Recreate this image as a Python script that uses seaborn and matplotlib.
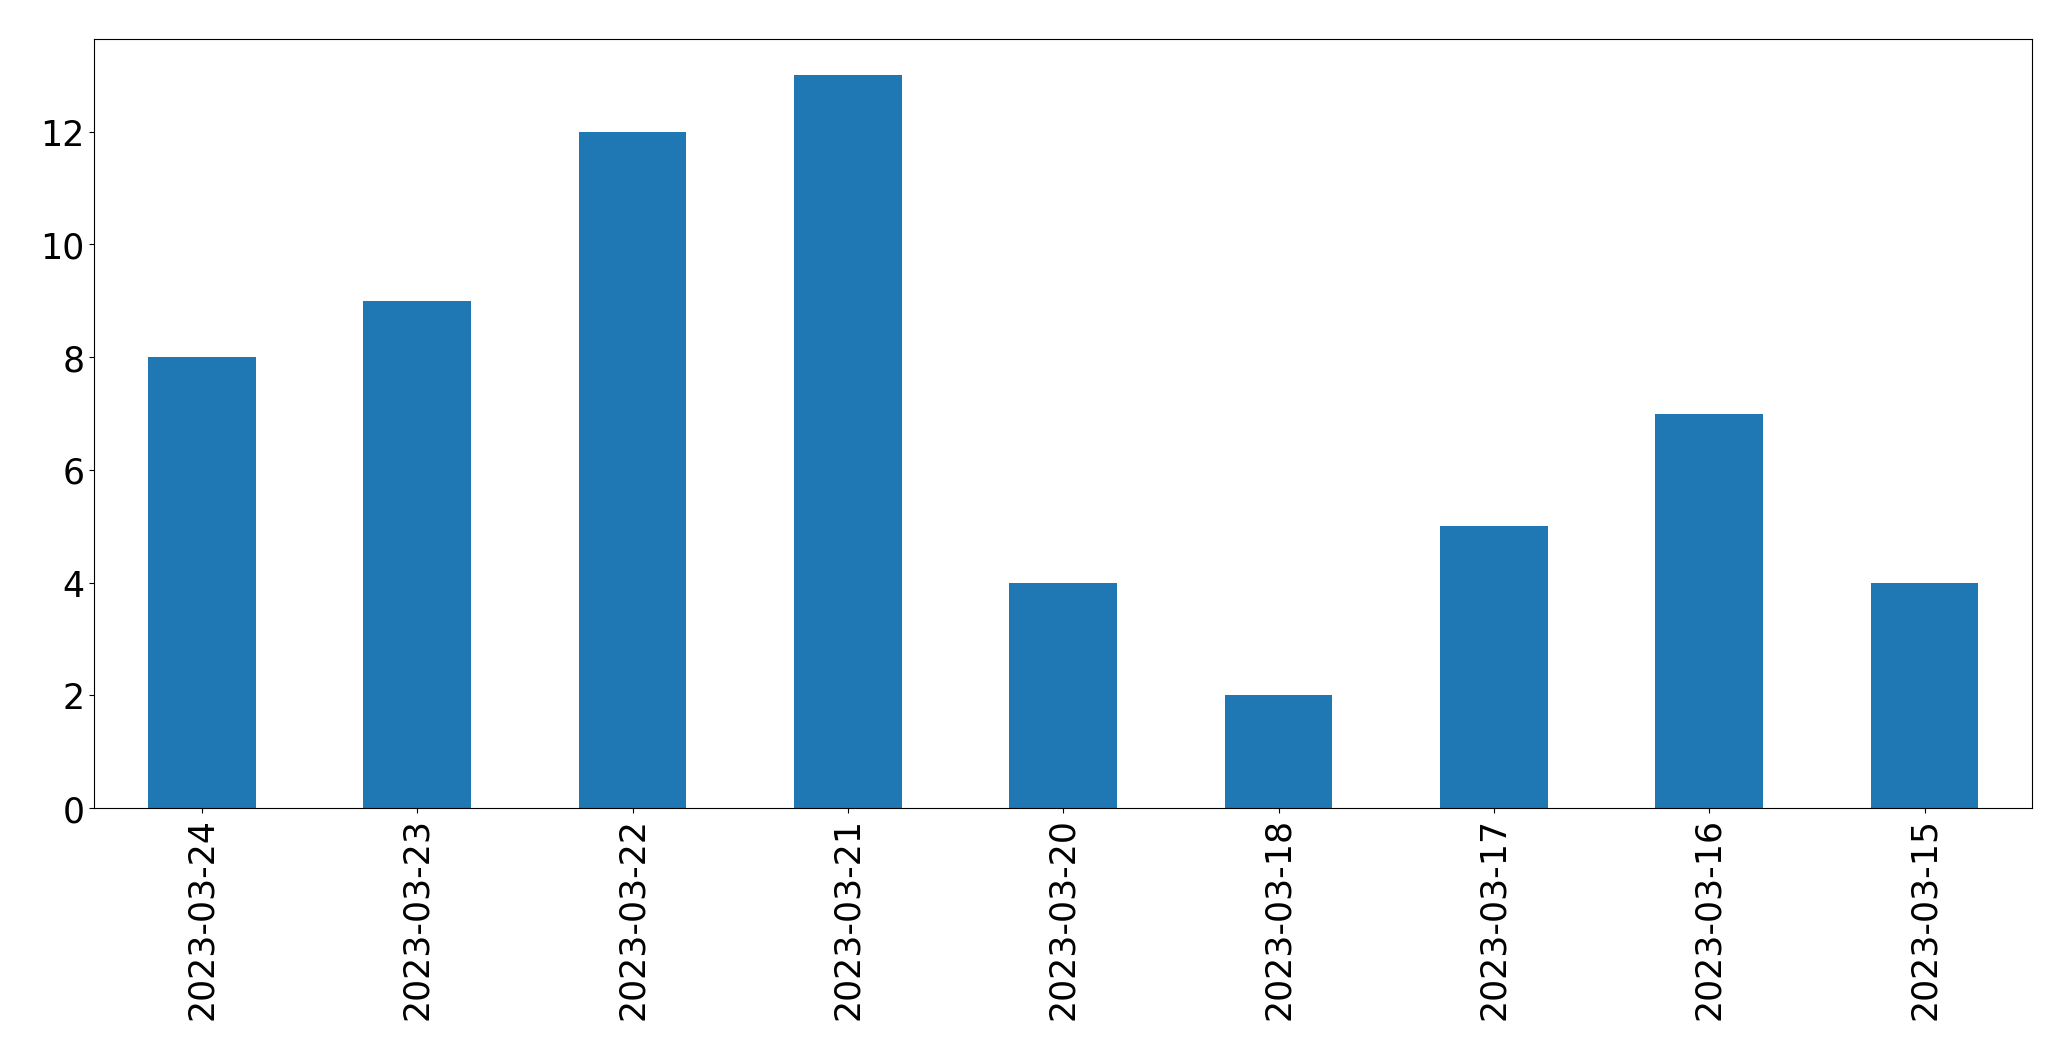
import numpy as np
import pandas as pd
import seaborn as sns
import matplotlib.pyplot as plt

dates = ['2023-03-24', '2023-03-23', '2023-03-22', '2023-03-21', '2023-03-20',
         '2023-03-18', '2023-03-17', '2023-03-16', '2023-03-15']
counts = [8, 9, 12, 13, 4, 2, 5, 7, 4]

df = pd.DataFrame({'date': dates, 'count': counts})

fig, ax = plt.subplots(figsize=(20.71, 10.605), dpi=100)
sns.barplot(data=df, x='date', y='count', color='#1f77b4', saturation=1,
            width=0.5, linewidth=0, ax=ax)
ax.set_xlim(-0.5, len(dates) - 0.5)
ax.set_ylim(0, max(counts) * 1.05)
ax.set_xlabel('')
ax.set_ylabel('')
ax.tick_params(axis='x', labelrotation=90, labelsize=25)
ax.tick_params(axis='y', labelsize=25)

plt.subplots_adjust(left=0.0455, right=0.9813, top=0.963, bottom=0.2375)
plt.savefig('out.png', dpi=100)
plt.close()
